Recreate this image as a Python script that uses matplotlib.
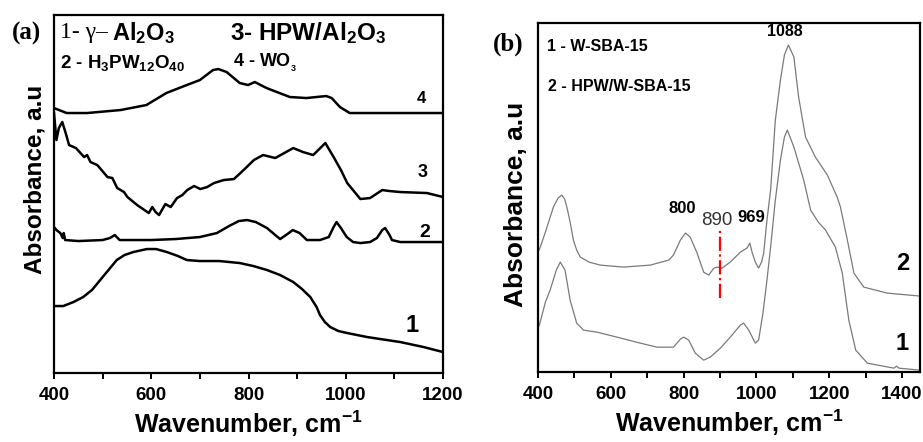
import numpy as np
import matplotlib
matplotlib.use("Agg")
import matplotlib.pyplot as plt

plt.rcParams["font.family"] = "Liberation Sans"
plt.rcParams["mathtext.fontset"] = "custom"
plt.rcParams["mathtext.rm"] = "Liberation Sans:bold"
plt.rcParams["mathtext.it"] = "Liberation Sans:bold"
plt.rcParams["mathtext.bf"] = "Liberation Sans:bold"
plt.rcParams["mathtext.default"] = "rm"

# ----- panel (a) spectra -----
wn4 = [400, 426, 468, 537, 590, 631, 673, 700, 727, 738, 755, 782, 799, 813, 837,
       885, 919, 960, 971, 988, 1008, 1050, 1200]
a4 = [265, 260, 260, 263, 268, 280, 288, 293, 303, 304, 301, 290, 288, 291, 285,
      276, 275, 277, 275, 266, 260, 260, 260]

wn3 = [400, 405, 410, 417, 424, 431, 445, 462, 468, 475, 489, 510, 520, 530, 544,
       551, 571, 595, 602, 609, 616, 629, 640, 653, 664, 674, 688, 701, 715, 729,
       749, 770, 790, 811, 830, 855, 892, 912, 933, 958, 975, 990, 1003, 1030, 1050,
       1075, 1090, 1112, 1167, 1200]
a3 = [260, 233, 245, 251, 240, 228, 225, 216, 218, 211, 208, 196, 195, 185, 181,
      176, 168, 160, 166, 161, 158, 169, 166, 175, 178, 183, 187, 184, 186, 190,
      193, 194, 203, 213, 218, 215, 225, 221, 218, 230, 216, 203, 190, 174, 175,
      183, 182, 181, 180, 176]

wn2 = [400, 405, 413, 418, 420, 423, 450, 500, 515, 525, 535, 600, 650, 700, 735,
       760, 780, 797, 815, 838, 855, 865, 880, 891, 905, 920, 947, 965, 975, 981,
       990, 1002, 1015, 1030, 1050, 1064, 1075, 1081, 1090, 1095, 1112, 1200]
a2 = [146, 143, 140, 135, 140, 133, 132, 133, 135, 138, 133, 133, 134, 136, 140,
      147, 152, 153, 151, 145, 138, 134, 139, 143, 140, 133, 133, 136, 146, 151,
      145, 136, 131, 130, 131, 135, 143, 145, 138, 133, 131, 131]

wn1 = [400, 419, 440, 460, 478, 495, 512, 529, 545, 563, 591, 610, 632, 655, 673,
       700, 740, 782, 810, 838, 865, 892, 910, 927, 940, 947, 957, 968, 985, 1003,
       1044, 1112, 1160, 1200]
a1 = [67, 67, 71, 76, 83, 93, 103, 113, 118, 121, 124, 124, 121, 117, 113,
      112, 112, 110, 107, 103, 98, 91, 84, 76, 66, 58, 51, 46, 42, 40,
      36, 31, 26, 21]

# ----- panel (b) spectra -----
wnb2 = [400, 405, 420, 442, 455, 465, 473, 479, 488, 497, 506, 516, 540, 571, 635,
        708, 759, 772, 782, 791, 805, 818, 837, 855, 869, 883, 892, 906, 928, 956,
        974, 982, 988, 997, 1006, 1014, 1020, 1029, 1039, 1052, 1066, 1077, 1088, 1103, 1116,
        1135, 1162, 1195, 1222, 1231, 1250, 1268, 1295, 1360, 1451]
b2 = [120, 124, 140, 165, 174, 177, 173, 165, 150, 132, 122, 115, 110, 107, 105,
      107, 112, 117, 125, 132, 139, 135, 119, 100, 97, 104, 105, 104, 110, 120,
      124, 129, 120, 110, 104, 110, 119, 152, 182, 252, 292, 317, 327, 315, 275,
      235, 215, 197, 175, 165, 132, 99, 85, 79, 76]

wnb1 = [400, 405, 420, 433, 450, 461, 474, 488, 506, 525, 562, 617, 681, 727, 772,
        791, 800, 814, 832, 855, 873, 901, 928, 956, 965, 979, 997, 1006, 1018, 1029,
        1039, 1052, 1066, 1077, 1085, 1103, 1130, 1149, 1170, 1190, 1217, 1236, 1254, 1273, 1305,
        1378, 1385, 1392, 1451]
b1 = [44, 49, 70, 82, 102, 110, 102, 72, 49, 42, 40, 35, 29, 25, 25,
      33, 35, 32, 19, 12, 15, 24, 35, 47, 49, 42, 29, 32, 59, 92,
      125, 172, 212, 235, 242, 225, 192, 162, 150, 142, 125, 99, 52, 22, 9,
      4, 6, 4, 2]

fig = plt.figure(figsize=(9.23, 4.42), dpi=100)
axa = fig.add_axes([0.0585, 0.156, 0.4215, 0.81])
axb = fig.add_axes([0.583, 0.158, 0.4139, 0.79])

for ax in (axa, axb):
    for s in ax.spines.values():
        s.set_linewidth(1.6)
    ax.set_yticks([])
    ax.tick_params(axis="x", which="both", direction="out", length=4, width=1.4,
                   labelsize=13.5, pad=6)
    ax.set_xlabel("Wavenumber, cm$^{-1}$", fontsize=18, fontweight="bold", labelpad=3)

# ----- (a) -----
for x, y in [(wn4, a4), (wn3, a3), (wn2, a2), (wn1, a1)]:
    axa.plot(x, y, color="black", lw=1.8)
axa.set_xlim(400, 1200)
axa.set_ylim(0, 358)
axa.set_xticks([400, 600, 800, 1000, 1200])
axa.set_xticks([500, 700, 900, 1100], minor=True)
axa.set_xticklabels(["400", "600", "800", "1000", "1200"], fontweight="bold")
axa.set_ylabel("Absorbance, a.u", fontsize=17.5, fontweight="bold")
axa.yaxis.set_label_coords(-0.02, 0.54)

axa.text(1156, 275, "4", fontsize=12, fontweight="bold", ha="center", va="center")
axa.text(1158, 201, "3", fontsize=13, fontweight="bold", ha="center", va="center")
axa.text(1162, 141, "2", fontsize=14, fontweight="bold", ha="center", va="center")
axa.text(1136, 48, "1", fontsize=17, fontweight="bold", ha="center", va="center")

axa.text(0.015, 0.95, "1- γ–", transform=axa.transAxes, fontsize=17,
         family="Liberation Serif", va="center")
axa.text(0.15, 0.95, "Al$_2$O$_3$", transform=axa.transAxes, fontsize=17,
         fontweight="bold", va="center")
axa.text(0.452, 0.95, "3- HPW/Al$_2$O$_3$", transform=axa.transAxes, fontsize=17.5,
         fontweight="bold", va="center")
axa.text(0.015, 0.866, "2 - H$_3$PW$_{12}$O$_{40}$", transform=axa.transAxes,
         fontsize=13.5, fontweight="bold", va="center")
axa.text(0.46, 0.866, "4 - WO$_{_3}$", transform=axa.transAxes,
         fontsize=13, fontweight="bold", va="center")

# ----- (b) -----
axb.plot(wnb2, b2, color="#7a7a7a", lw=0.9)
axb.plot(wnb1, b1, color="#7a7a7a", lw=0.9)
axb.plot([900, 900], [74, 142], color="red", lw=1.6, ls="-.")
axb.set_xlim(400, 1450)
axb.set_ylim(0, 349)
axb.set_xticks([400, 600, 800, 1000, 1200, 1400])
axb.set_xticks([500, 700, 900, 1100, 1300], minor=True)
axb.set_xticklabels(["400", "600", "800", "1000", "1200", "1400"], fontweight="bold")
axb.set_ylabel("Absorbance, a.u", fontsize=19, fontweight="bold")
axb.yaxis.set_label_coords(-0.026, 0.48)

axb.text(1401, 109, "2", fontsize=17, fontweight="bold", ha="center", va="center")
axb.text(1399, 29, "1", fontsize=17, fontweight="bold", ha="center", va="center")
axb.text(1077, 340, "1088", fontsize=11.5, fontweight="bold", ha="center", va="center")
axb.text(795, 164, "800", fontsize=12, fontweight="bold", ha="center", va="center")
axb.text(892, 152, "890", fontsize=13.5, color="#333333", ha="center", va="center")
axb.text(987, 155, "969", fontsize=12, fontweight="bold", ha="center", va="center")
axb.text(0.024, 0.934, "1 - W-SBA-15", transform=axb.transAxes, fontsize=11.5,
         fontweight="bold", va="center")
axb.text(0.026, 0.819, "2 - HPW/W-SBA-15", transform=axb.transAxes, fontsize=11.5,
         fontweight="bold", va="center")

fig.text(0.029, 0.925, "(a)", fontsize=18, fontweight="bold", family="Liberation Serif",
         ha="center", va="center")
fig.text(0.551, 0.9, "(b)", fontsize=18, fontweight="bold", family="Liberation Serif",
         ha="center", va="center")

fig.savefig("out.png", dpi=100)
